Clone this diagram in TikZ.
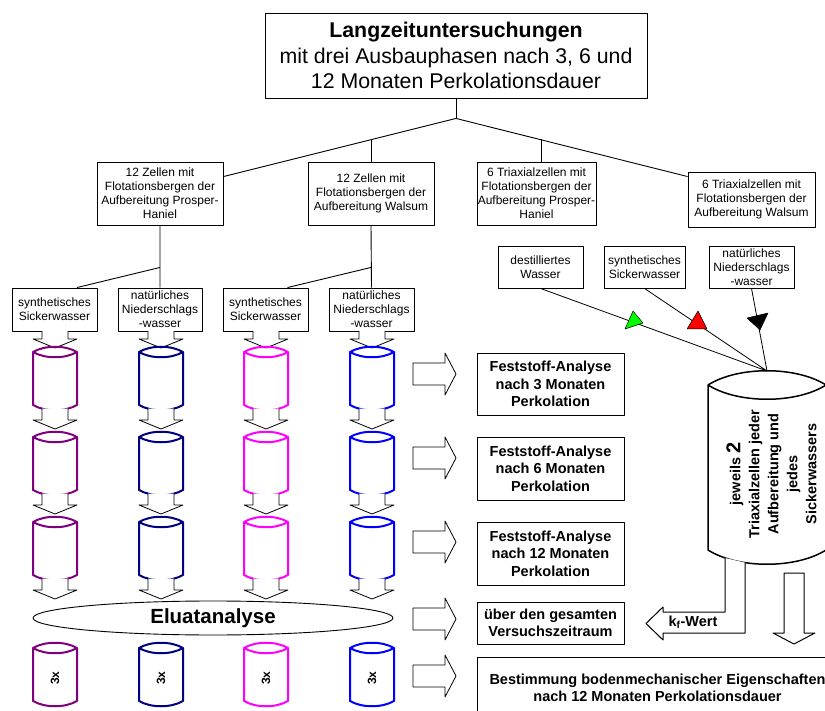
\documentclass[tikz,border=0pt]{standalone}
\usepackage{fontspec}
\setmainfont{Liberation Sans}
\usetikzlibrary{shapes.geometric}
\definecolor{lila}{RGB}{128,0,128}
\definecolor{marine}{RGB}{0,0,128}
\definecolor{rosa}{RGB}{255,0,255}
\definecolor{blau}{RGB}{0,0,255}
\definecolor{gruen}{RGB}{0,255,0}
\definecolor{rot}{RGB}{255,0,0}
% Zelle: x, y der Deckelmitte, Farbe
\newcommand{\zelle}[3]{%
  \draw[zyl,#3] (#1-22,#2) .. controls (#1-10,#2-7) and (#1+10,#2-7) .. (#1+22,#2)
    .. controls (#1+10,#2+7) and (#1-10,#2+7) .. cycle
    (#1-22,#2) -- (#1-22,#2+53) .. controls (#1-10,#2+60) and (#1+10,#2+60) .. (#1+22,#2+53) -- (#1+22,#2);}
% Blockpfeil nach unten: x, Schaft oben, Kopf
\newcommand{\runter}[3]{%
  \filldraw[pfeil] (#1-13,#2) -- (#1-13,#3) -- (#1-22,#3) -- (#1,#3+9) -- (#1+22,#3) -- (#1+13,#3) -- (#1+13,#2);}
\begin{document}
\begin{tikzpicture}[x=1pt,y=-1pt,line join=round,
    kasten/.style={draw,line width=.9pt,align=center,inner sep=0pt,font=\fontsize{12}{14}\selectfont},
    fett/.style={kasten,font=\fontsize{14.5}{17.5}\selectfont\bfseries},
    zyl/.style={line width=2pt},
    pfeil/.style={line width=.8pt,fill=white}]
\useasboundingbox (0,0) rectangle (825,711);
\clip (0,0) rectangle (825,711);

\node[kasten,minimum width=382pt,minimum height=85pt,font=\fontsize{21.3}{25.5}\selectfont] (lang) at (456,55.5)
  {\textbf{Langzeituntersuchungen}\\mit drei Ausbauphasen nach 3, 6 und\\12 Monaten Perkolationsdauer};
\node[kasten,minimum width=126pt,minimum height=63pt] (z1) at (160,193.5) {12 Zellen mit\\Flotationsbergen der\\Aufbereitung Prosper-\\Haniel};
\node[kasten,minimum width=126pt,minimum height=63pt] (z2) at (371,193.5) {12 Zellen mit\\Flotationsbergen der\\Aufbereitung Walsum};
\node[kasten,minimum width=119pt,minimum height=63pt] (z3) at (536.5,193.5) {6 Triaxialzellen mit\\Flotationsbergen der\\Aufbereitung Prosper-\\Haniel};
\node[kasten,minimum width=127pt,minimum height=55pt] (z4) at (751.5,199.5) {6 Triaxialzellen mit\\Flotationsbergen der\\Aufbereitung Walsum};

\node[kasten,minimum width=85pt,minimum height=43pt] (wa) at (54.5,309.5) {synthetisches\\Sickerwasser};
\node[kasten,minimum width=84pt,minimum height=43pt] (wb) at (160,309.5) {natürliches\\Niederschlags\\-wasser};
\node[kasten,minimum width=85pt,minimum height=43pt] (wc) at (265.5,309.5) {synthetisches\\Sickerwasser};
\node[kasten,minimum width=85pt,minimum height=43pt] (wd) at (371.5,309.5) {natürliches\\Niederschlags\\-wasser};

\draw[line width=.9pt] (lang.south) -- ++(0,20) coordinate (j0);
\draw[line width=.9pt] ([yshift=-15pt]z1.north east) -- (j0) -- ([yshift=-5pt]z4.north west);
\draw[line width=.9pt] (z2.north) -- ++(0,-22.5) ([xshift=4.5pt]z3.north) -- ++(0,-22.5);
\draw[line width=.9pt] (z1.south) -- (wb.north) (z2.south) -- (wd.north);
\draw[line width=.9pt] (z1.south) ++(0,42) coordinate (j1) -- ([xshift=22.5pt]wa.north);
\draw[line width=.9pt] (z2.south) ++(0,42) coordinate (j2) -- ([xshift=22pt]wc.north);

\foreach \x/\f in {55/lila,161/marine,266/rosa,372/blau}{
  \runter{\x}{331}{339}
  \foreach \y in {352,437,522}{\zelle{\x}{\y}{\f} \runter{\x}{\y+56.6}{\y+68}}
  \zelle{\x}{648}{\f}
  \node[rotate=90,font=\fontsize{12}{14}\selectfont\bfseries] (drei\x) at (\x,678) {3x};
}
\node[draw,ellipse,line width=.9pt,minimum width=360pt,minimum height=34pt,inner sep=0pt,
  font=\fontsize{20.5}{24}\selectfont\bfseries] (eluat) at (213,618) {Eluatanalyse};

\node[fett,minimum width=147pt,minimum height=62pt] (fa3) at (550.5,384) {Feststoff-Analyse\\nach 3 Monaten\\Perkolation};
\node[fett,minimum width=147pt,minimum height=63pt] (fa6) at (550.5,468.5) {Feststoff-Analyse\\nach 6 Monaten\\Perkolation};
\node[fett,minimum width=147pt,minimum height=63pt] (fa12) at (550.5,553.5) {Feststoff-Analyse\\nach 12 Monaten\\Perkolation};
\node[fett,minimum width=147pt,minimum height=42pt] (gesamt) at (550.5,623) {über den gesamten\\Versuchszeitraum};
\node[fett,minimum width=361pt,minimum height=62pt] (boden) at (657.5,688) {Bestimmung bodenmechanischer Eigenschaften\\nach 12 Monaten Perkolationsdauer};
\foreach \y in {374,458,542,619,676}
  \filldraw[pfeil] (413,\y-11) -- (445,\y-11) -- (445,\y-21) -- (456,\y) -- (445,\y+21) -- (445,\y+11) -- (413,\y+11) -- cycle;

\node[kasten,minimum width=85pt,minimum height=42pt] (dw) at (540.5,267) {destilliertes\\Wasser};
\node[kasten,minimum width=81pt,minimum height=42pt] (sw) at (644.5,267) {synthetisches\\Sickerwasser};
\node[kasten,minimum width=85pt,minimum height=42pt] (nw) at (751.5,267) {natürliches\\Niederschlags\\-wasser};
\coordinate (tz) at (767,371);
\draw[line width=.8pt] (dw.south) -- (tz) (sw.south) -- (tz) (nw.south) -- (tz);
\filldraw[fill=gruen,line width=.5pt] (633,311) -- (643,323) -- (625,329) -- cycle;
\filldraw[fill=rot,line width=.5pt] (698,311) -- (707,329) -- (687,329) -- cycle;
\filldraw[fill=black,line width=.5pt] (747,318) -- (768,313) -- (760,330) -- cycle;

\draw[line width=1.5pt] (708,385) .. controls (738,366) and (796,366) .. (826,385) .. controls (796,404) and (738,404) .. cycle
  (708,385) -- (708,550) .. controls (738,569) and (796,569) .. (826,550) -- (826,385);
\node[rotate=90,align=center,font=\fontsize{14.5}{19}\selectfont\bfseries] (tztext) at (771.5,474)
  {jeweils {\fontsize{20}{19}\selectfont 2}\\Triaxialzellen jeder\\Aufbereitung und\\jedes\\Sickerwassers};
\filldraw[pfeil,line width=1pt] (725,558) -- (725,612) -- (663,612) -- (663,607) -- (646,623.5) -- (663,640) -- (663,633) -- (745,633) -- (745,562.6);
\node[font=\fontsize{14.5}{17}\selectfont\bfseries] (kf) at (693,622) {k\textsubscript{f}-Wert};
\draw[line width=1pt] (784,573) -- (784,633) -- (773,633) -- (794,644) -- (815,633) -- (804,633) -- (804,573) -- cycle;
\end{tikzpicture}
\end{document}
